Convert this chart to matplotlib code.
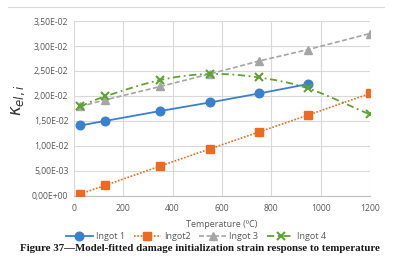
import matplotlib
matplotlib.use("Agg")
import matplotlib.pyplot as plt
import numpy as np
from matplotlib.ticker import FuncFormatter

temps = [25, 125, 350, 550, 750, 950, 1200]
ingot1 = [0.0141, 0.0150, 0.0170, 0.0187, 0.0205, 0.0224]
ingot2 = [0.0004, 0.0021, 0.0060, 0.0094, 0.0128, 0.0162, 0.0205]
ingot3 = [0.0179, 0.0192, 0.0219, 0.0244, 0.0270, 0.0293, 0.0325]
ingot4 = [0.0179, 0.0199, 0.0232, 0.0244, 0.0237, 0.0215, 0.0163]
xticks = [0, 200, 400, 600, 800, 1000, 1200]
yticks = [0.0, 0.005, 0.010, 0.015, 0.020, 0.025, 0.030, 0.035]

c1, c2, c3, c4 = "#3B80CF", "#EE6A1F", "#A5A5A5", "#5FA332"
tick_col = "#595959"
font = "Open Sans"


def smooth(x, y, n=20):
    # Catmull-Rom rendering of a smoothed line (style only)
    x = np.asarray(x, float); y = np.asarray(y, float)
    px = np.concatenate([[2 * x[0] - x[1]], x, [2 * x[-1] - x[-2]]])
    py = np.concatenate([[2 * y[0] - y[1]], y, [2 * y[-1] - y[-2]]])
    xs, ys = [], []
    for i in range(1, len(px) - 2):
        t = np.linspace(0, 1, n, endpoint=False)
        for arr, out in ((px, xs), (py, ys)):
            p0, p1, p2, p3 = arr[i - 1], arr[i], arr[i + 1], arr[i + 2]
            out.extend(0.5 * ((2 * p1) + (-p0 + p2) * t + (2 * p0 - 5 * p1 + 4 * p2 - p3) * t ** 2
                              + (-p0 + 3 * p1 - 3 * p2 + p3) * t ** 3))
    xs.append(x[-1]); ys.append(y[-1])
    return xs, ys


fig = plt.figure(figsize=(4.0, 2.71), dpi=100)
ax = fig.add_axes([0.185, 0.2768, 0.74, 0.6457])

ax.plot(temps[:len(ingot1)], ingot1, color=c1, lw=1.3, marker="o", ms=6.2, label="Ingot 1", zorder=5)
ax.plot(temps, ingot2, color=c2, lw=1.2, ls=(0, (1, 1)), marker="s", ms=5.2, label="Ingot2", zorder=4)
ax.plot(temps, ingot3, color=c3, lw=1.2, ls=(0, (3, 1.5)), marker="^", ms=5.2, label="Ingot 3", zorder=3)
sx, sy = smooth(temps, ingot4)
ax.plot(sx, sy, color=c4, lw=1.3, ls=(0, (4, 2, 1, 2)), zorder=4)
ax.plot(temps, ingot4, color=c4, lw=0, marker="x", ms=5.5, mew=1.5, zorder=6)
ax.plot([], [], color=c4, lw=1.3, ls=(0, (4, 2, 1, 2)), marker="x", ms=5.5, mew=1.5, label="Ingot 4")

ax.set_xlim(0, 1200)
ax.set_ylim(0, 0.035)
ax.set_xticks(xticks)
ax.set_yticks(yticks)
ax.yaxis.set_major_formatter(FuncFormatter(lambda v, p: ("%.2E" % v).replace(".", ",")))
ax.grid(True, color="#D9D9D9", lw=0.8)
ax.set_axisbelow(True)
for s in ["top", "right", "left"]:
    ax.spines[s].set_visible(False)
ax.spines["bottom"].set_color("#BFBFBF")
ax.tick_params(axis="both", length=0, colors=tick_col, labelsize=6.2, pad=4)
ax.tick_params(axis="x", pad=6)
for lab in ax.get_xticklabels() + ax.get_yticklabels():
    lab.set_fontfamily(font)

ax.set_xlabel("Temperature (ºC)", fontsize=6.5, color=tick_col, fontfamily=font, labelpad=5)
fig.text(0.045, 0.63, r"$\kappa_{el,i}$", rotation=90, fontsize=12, ha="center", va="center", color="#333333")

leg = fig.legend(loc="center", bbox_to_anchor=(0.49, 0.128), ncol=4, frameon=False,
                 prop={"family": font, "size": 6.5}, handlelength=3.0, columnspacing=1.0,
                 handletextpad=0.3, numpoints=1)
for t in leg.get_texts():
    t.set_color(tick_col)

fig.add_artist(plt.Line2D([0.02, 0.96], [0.974, 0.974], color="#D9D9D9", lw=0.8))
fig.text(0.5, 0.083, "Figure 37\u2014Model-fitted damage initialization strain response to temperature",
         ha="center", va="center", fontsize=7.8, fontweight="bold", fontfamily="Liberation Serif",
         color="#1a1a1a")

fig.savefig("out.png", dpi=100)
